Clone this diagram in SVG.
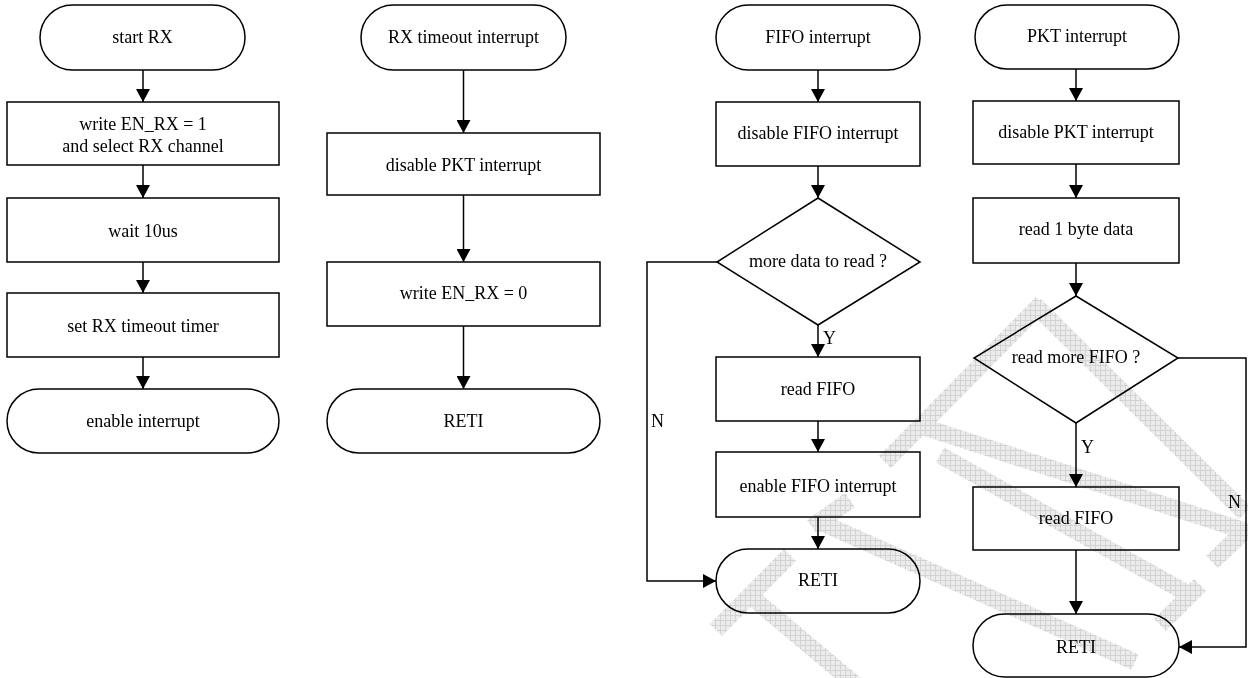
<svg xmlns="http://www.w3.org/2000/svg" width="1248" height="678" viewBox="0 0 1248 678">
  <defs>
    <pattern id="hatch" width="5" height="5" patternUnits="userSpaceOnUse">
      <rect width="5" height="5" fill="#ececec"/>
      <path d="M0,0.5H5M0.5,0V5" stroke="#d3d3d3" stroke-width="1"/>
    </pattern>
    <marker id="arrow" markerUnits="userSpaceOnUse" markerWidth="14" markerHeight="14" refX="13" refY="7" orient="auto">
      <path d="M0,0 L13,7 L0,14 z" fill="#000"/>
    </marker>
    <style>
      .shape { fill: #fff; stroke: #000; stroke-width: 1.5; }
      .wire { fill: none; stroke: #000; stroke-width: 1.5; marker-end: url(#arrow); }
      .band { fill: none; stroke: url(#hatch); stroke-width: 17; stroke-linecap: butt; }
      #watermark { mix-blend-mode: multiply; }
      text { font-family: "Liberation Serif", "Times New Roman", serif; font-size: 18px; fill: #000; text-anchor: middle; }
      .lbl { text-anchor: start; }
    </style>
  </defs>

  <rect width="1248" height="678" fill="#fff"/>

  <g id="connectors">
    <!-- start RX column -->
    <line class="wire" x1="143" y1="70" x2="143" y2="102"/>
    <line class="wire" x1="143" y1="165" x2="143" y2="198"/>
    <line class="wire" x1="143" y1="262" x2="143" y2="293"/>
    <line class="wire" x1="143" y1="357" x2="143" y2="389"/>
    <!-- RX timeout column -->
    <line class="wire" x1="463.5" y1="70" x2="463.5" y2="133"/>
    <line class="wire" x1="463.5" y1="195" x2="463.5" y2="262"/>
    <line class="wire" x1="463.5" y1="326" x2="463.5" y2="389"/>
    <!-- FIFO interrupt column -->
    <line class="wire" x1="818" y1="70" x2="818" y2="102"/>
    <line class="wire" x1="818" y1="166" x2="818" y2="198"/>
    <line class="wire" x1="818" y1="325" x2="818" y2="357"/>
    <line class="wire" x1="818" y1="421" x2="818" y2="452"/>
    <line class="wire" x1="818" y1="517" x2="818" y2="549"/>
    <path class="wire" d="M717,262 H647 V581 H716"/>
    <!-- PKT interrupt column -->
    <line class="wire" x1="1076" y1="69" x2="1076" y2="101"/>
    <line class="wire" x1="1076" y1="164" x2="1076" y2="198"/>
    <line class="wire" x1="1076" y1="263" x2="1076" y2="296"/>
    <line class="wire" x1="1076" y1="423" x2="1076" y2="487"/>
    <line class="wire" x1="1076" y1="550" x2="1076" y2="614"/>
    <path class="wire" d="M1178,358 H1246 V647 H1179"/>
  </g>

  <g id="labels">
    <text class="lbl" x="823" y="344">Y</text>
    <text class="lbl" x="651" y="427">N</text>
    <text class="lbl" x="1081" y="453">Y</text>
    <text class="lbl" x="1228" y="508">N</text>
  </g>

  <!-- start RX -->
  <g id="start-rx">
    <rect class="shape" x="40" y="5" width="205" height="65" rx="32.5"/>
    <text x="142.5" y="43">start RX</text>
  </g>
  <g id="write-en-rx-1">
    <rect class="shape" x="7" y="102" width="272" height="63"/>
    <text x="143" y="130">write EN_RX = 1</text>
    <text x="143" y="152">and select RX channel</text>
  </g>
  <g id="wait-10us">
    <rect class="shape" x="7" y="198" width="272" height="64"/>
    <text x="143" y="237">wait 10us</text>
  </g>
  <g id="set-timer">
    <rect class="shape" x="7" y="293" width="272" height="64"/>
    <text x="143" y="332">set RX timeout timer</text>
  </g>
  <g id="enable-interrupt">
    <rect class="shape" x="7" y="389" width="272" height="64" rx="32"/>
    <text x="143" y="427">enable interrupt</text>
  </g>

  <!-- RX timeout interrupt -->
  <g id="rx-timeout">
    <rect class="shape" x="361" y="5" width="205" height="65" rx="32.5"/>
    <text x="463.5" y="43">RX timeout interrupt</text>
  </g>
  <g id="disable-pkt-1">
    <rect class="shape" x="327" y="133" width="273" height="62"/>
    <text x="463.5" y="171">disable PKT interrupt</text>
  </g>
  <g id="write-en-rx-0">
    <rect class="shape" x="327" y="262" width="273" height="64"/>
    <text x="463.5" y="299">write EN_RX = 0</text>
  </g>
  <g id="reti-1">
    <rect class="shape" x="327" y="389" width="273" height="64" rx="32"/>
    <text x="463.5" y="427">RETI</text>
  </g>

  <!-- FIFO interrupt -->
  <g id="fifo-int">
    <rect class="shape" x="716" y="5" width="204" height="65" rx="32.5"/>
    <text x="818" y="43">FIFO interrupt</text>
  </g>
  <g id="disable-fifo">
    <rect class="shape" x="716" y="102" width="204" height="64"/>
    <text x="818" y="139">disable FIFO interrupt</text>
  </g>
  <g id="more-data">
    <polygon class="shape" points="818,198 920,262 818,325 717,262"/>
    <text x="818" y="267">more data to read ?</text>
  </g>
  <g id="read-fifo-1">
    <rect class="shape" x="716" y="357" width="204" height="64"/>
    <text x="818" y="395">read FIFO</text>
  </g>
  <g id="enable-fifo">
    <rect class="shape" x="716" y="452" width="204" height="65"/>
    <text x="818" y="492">enable FIFO interrupt</text>
  </g>
  <g id="reti-2">
    <rect class="shape" x="716" y="549" width="204" height="64" rx="32"/>
    <text x="818" y="586">RETI</text>
  </g>

  <!-- PKT interrupt -->
  <g id="pkt-int">
    <rect class="shape" x="975" y="5" width="204" height="64" rx="32"/>
    <text x="1077" y="42">PKT interrupt</text>
  </g>
  <g id="disable-pkt-2">
    <rect class="shape" x="973" y="101" width="206" height="63"/>
    <text x="1076" y="138">disable PKT interrupt</text>
  </g>
  <g id="read-byte">
    <rect class="shape" x="973" y="198" width="206" height="65"/>
    <text x="1076" y="235">read 1 byte data</text>
  </g>
  <g id="read-more">
    <polygon class="shape" points="1076,296 1178,358 1076,423 974,358"/>
    <text x="1076" y="363">read more FIFO ?</text>
  </g>
  <g id="read-fifo-2">
    <rect class="shape" x="973" y="487" width="206" height="63"/>
    <text x="1076" y="524">read FIFO</text>
  </g>
  <g id="reti-3">
    <rect class="shape" x="973" y="614" width="206" height="63" rx="31.5"/>
    <text x="1076" y="653">RETI</text>
  </g>

  <!-- faint logo strokes laid over the chart (multiplied, so ink stays black) -->
  <g id="watermark">
    <line class="band" x1="716" y1="630" x2="790" y2="555"/>
    <line class="band" x1="748" y1="594" x2="862" y2="690"/>
    <line class="band" x1="812" y1="527" x2="850" y2="500"/>
    <line class="band" x1="820" y1="522" x2="1135" y2="662"/>
    <line class="band" x1="885" y1="462" x2="1042" y2="303"/>
    <line class="band" x1="1035" y1="305" x2="1245" y2="513"/>
    <line class="band" x1="924" y1="427" x2="1248" y2="532"/>
    <line class="band" x1="940" y1="455" x2="1190" y2="595"/>
    <line class="band" x1="1160" y1="625" x2="1200" y2="585"/>
    <line class="band" x1="1212" y1="562" x2="1248" y2="528"/>
  </g>
</svg>
